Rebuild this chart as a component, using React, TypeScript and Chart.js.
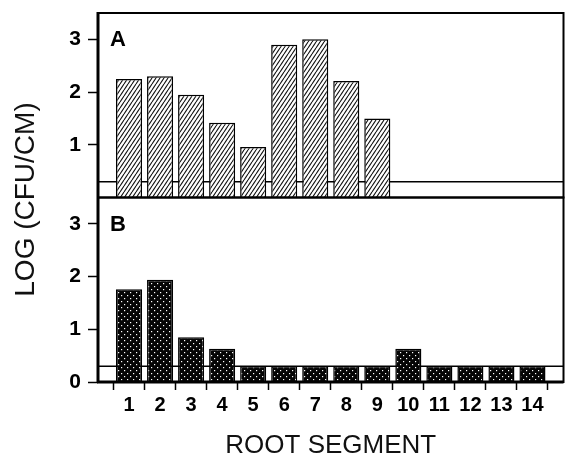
import React, { useEffect, useRef } from 'react';
import { Chart, registerables } from 'chart.js';

Chart.register(...registerables);

// ---- data ----
const SEGMENTS: string[] = ['1', '2', '3', '4', '5', '6', '7', '8', '9', '10', '11', '12', '13', '14'];
const PANEL_A_VALUES: (number | null)[] = [2.25, 2.3, 1.95, 1.42, 0.96, 2.9, 3.0, 2.21, 1.5, null, null, null, null, null];
const PANEL_B_VALUES: (number | null)[] = [1.76, 1.94, 0.85, 0.63, 0.3, 0.3, 0.3, 0.3, 0.3, 0.63, 0.3, 0.3, 0.3, 0.3];
const Y_TICKS: number[] = [0, 1, 2, 3];
const Y_MIN = 0;
const Y_MAX = 3.5;
const DETECTION_LIMIT = 0.3;
const PANEL_LABELS: string[] = ['A', 'B'];
const X_TITLE = 'ROOT SEGMENT';
const Y_TITLE = 'LOG (CFU/CM)';

const FONT = '"Liberation Sans", Arial, Helvetica, sans-serif';

function hatchPattern(): CanvasPattern | string {
  const c = document.createElement('canvas');
  c.width = 4;
  c.height = 6;
  const g = c.getContext('2d');
  if (!g) return '#fff';
  g.fillStyle = '#fff';
  g.fillRect(0, 0, 4, 6);
  g.strokeStyle = '#111';
  g.lineWidth = 1.1;
  for (const x0 of [-4, 0, 4]) {
    g.beginPath();
    g.moveTo(x0, 6);
    g.lineTo(x0 + 4, 0);
    g.stroke();
  }
  return g.createPattern(c, 'repeat') || '#fff';
}

function dotPattern(): CanvasPattern | string {
  const c = document.createElement('canvas');
  c.width = 6;
  c.height = 6;
  const g = c.getContext('2d');
  if (!g) return '#000';
  g.fillStyle = '#050505';
  g.fillRect(0, 0, 6, 6);
  g.fillStyle = '#fff';
  g.fillRect(1, 1, 1.2, 1.2);
  g.fillRect(4, 4, 1.2, 1.2);
  return g.createPattern(c, 'repeat') || '#000';
}

const panelPlugin = {
  id: 'panelFrames',
  beforeDatasetsDraw(chart: any) {
    const { ctx, chartArea } = chart;
    ctx.save();
    ctx.strokeStyle = '#000';
    ctx.lineWidth = 1.5;
    ['yA', 'yB'].forEach((id) => {
      const s = chart.scales[id];
      const y = s.getPixelForValue(DETECTION_LIMIT);
      ctx.beginPath();
      ctx.moveTo(chartArea.left, y);
      ctx.lineTo(chartArea.right, y);
      ctx.stroke();
    });
    ctx.restore();
  },
  afterDraw(chart: any) {
    const { ctx, chartArea } = chart;
    ctx.save();
    ctx.strokeStyle = '#000';
    ['yA', 'yB'].forEach((id, i) => {
      const s = chart.scales[id];
      ctx.lineWidth = 2;
      ctx.strokeRect(chartArea.left, s.top, chartArea.right - chartArea.left, s.bottom - s.top);
      ctx.fillStyle = '#000';
      ctx.font = `bold 22px ${FONT}`;
      ctx.textAlign = 'left';
      ctx.textBaseline = 'middle';
      ctx.fillText(PANEL_LABELS[i], chartArea.left + 12, s.getPixelForValue(3) + 1);
    });
    ctx.lineWidth = 3;
    ctx.beginPath();
    ctx.moveTo(chartArea.left, chartArea.top - 1);
    ctx.lineTo(chartArea.left, chartArea.bottom + 1);
    ctx.moveTo(chartArea.left - 1, chartArea.bottom);
    ctx.lineTo(chartArea.right, chartArea.bottom);
    ctx.stroke();

    // shared y-axis title
    ctx.translate(26, (chartArea.top + chartArea.bottom) / 2 + 2);
    ctx.rotate(-Math.PI / 2);
    ctx.font = `28px ${FONT}`;
    ctx.textAlign = 'center';
    ctx.textBaseline = 'middle';
    ctx.fillStyle = '#111';
    ctx.fillText(Y_TITLE, 0, 0);
    ctx.restore();
  },
};

export default function App() {
  const canvasRef = useRef<HTMLCanvasElement | null>(null);

  useEffect(() => {
    const canvas = canvasRef.current;
    if (!canvas) return;
    const labels = ['', ...SEGMENTS, ''];
    const aData = [null, ...PANEL_A_VALUES, null];
    const bData = [null, ...PANEL_B_VALUES, null];

    const yScale = (includeZero: boolean) => ({
      type: 'linear' as const,
      position: 'left' as const,
      stack: 'panels',
      stackWeight: 1,
      min: Y_MIN,
      max: Y_MAX,
      border: { display: false },
      grid: {
        drawOnChartArea: false,
        drawTicks: true,
        tickLength: 10,
        tickWidth: 1.5,
        tickColor: '#000',
      },
      ticks: {
        color: '#000',
        padding: 7,
        font: { family: FONT, size: 21, weight: 'bold' as const },
      },
      afterBuildTicks: (scale: any) => {
        scale.ticks = Y_TICKS.filter((v) => includeZero || v > 0).map((v) => ({ value: v }));
      },
      afterFit: (scale: any) => {
        scale.width = 98;
        scale.paddingTop = 0;
        scale.paddingBottom = 0;
      },
    });

    const chart = new Chart(canvas, {
      type: 'bar',
      data: {
        labels,
        datasets: [
          {
            label: 'A',
            data: aData,
            yAxisID: 'yA',
            backgroundColor: hatchPattern(),
            borderColor: '#000',
            borderWidth: 1.5,
            grouped: false,
            categoryPercentage: 1,
            barPercentage: 0.84,
          },
          {
            label: 'B',
            data: bData,
            yAxisID: 'yB',
            backgroundColor: dotPattern(),
            borderColor: '#000',
            borderWidth: 1.5,
            grouped: false,
            categoryPercentage: 1,
            barPercentage: 0.84,
          },
        ] as any,
      },
      options: {
        responsive: false,
        animation: false,
        devicePixelRatio: 1,
        layout: { padding: { top: 13, right: 1.5, bottom: 0, left: 0 } },
        plugins: {
          legend: { display: false },
          tooltip: { enabled: false },
          title: { display: false },
        },
        scales: {
          x: {
            type: 'category',
            offset: false,
            border: { display: false },
            grid: {
              drawOnChartArea: false,
              drawTicks: true,
              tickLength: 8,
              tickWidth: 1.5,
              tickColor: '#000',
            },
            ticks: {
              color: '#000',
              padding: 3,
              maxRotation: 0,
              autoSkip: false,
              font: { family: FONT, size: 20, weight: 'bold' },
            },
            title: {
              display: true,
              text: X_TITLE,
              color: '#111',
              padding: 0,
              font: { family: FONT, size: 26, lineHeight: 0.7 },
            },
            afterBuildTicks: (scale: any) => {
              scale.ticks = scale.ticks.filter((t: any) => t.value >= 1 && t.value <= SEGMENTS.length);
            },
            afterFit: (scale: any) => {
              scale.height = 73;
            },
          },
          yB: yScale(true),
          yA: yScale(false),
        } as any,
      },
      plugins: [panelPlugin],
    });

    return () => chart.destroy();
  }, []);

  return (
    <div style={{ position: 'absolute', left: 0, top: 0, width: 565, height: 455, background: '#fff' }}>
      <canvas ref={canvasRef} width={565} height={455} style={{ display: 'block' }} />
    </div>
  );
}
